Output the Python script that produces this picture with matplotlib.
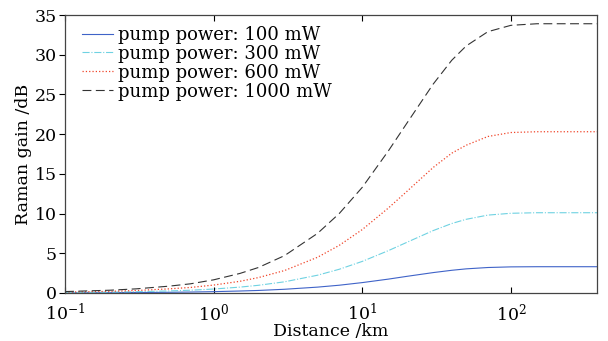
import matplotlib
matplotlib.use('Agg')
import matplotlib.pyplot as plt
from matplotlib.ticker import LogLocator, NullLocator

plt.rcParams['font.family'] = 'DejaVu Serif'
plt.rcParams['mathtext.fontset'] = 'dejavuserif'

# Distance along the fibre (km) and Raman gain (dB)
distance = [0.1, 0.2, 0.3, 0.5, 0.7, 1, 1.5, 2, 3, 5, 7, 10, 15, 20, 30, 40, 50,
            70, 100, 150, 200, 380]
gain_100 = [0.02, 0.03, 0.05, 0.08, 0.11, 0.16, 0.24, 0.31, 0.46, 0.73, 0.97,
            1.30, 1.74, 2.09, 2.56, 2.85, 3.03, 3.20, 3.28, 3.30, 3.30, 3.30]
gain_300 = [0.05, 0.10, 0.15, 0.25, 0.34, 0.49, 0.73, 0.96, 1.40, 2.23, 2.98,
            3.97, 5.33, 6.38, 7.85, 8.74, 9.27, 9.80, 10.03, 10.1, 10.1, 10.1]
gain_600 = [0.10, 0.20, 0.30, 0.51, 0.69, 0.99, 1.46, 1.93, 2.82, 4.49, 5.99,
            7.98, 10.7, 12.8, 15.8, 17.6, 18.6, 19.7, 20.2, 20.3, 20.3, 20.3]
gain_1000 = [0.17, 0.34, 0.51, 0.85, 1.15, 1.65, 2.45, 3.2, 4.7, 7.5, 10.0,
             13.3, 17.9, 21.4, 26.3, 29.3, 31.1, 32.9, 33.7, 33.9, 33.9, 33.9]
labels = ['pump power: 100 mW', 'pump power: 300 mW',
          'pump power: 600 mW', 'pump power: 1000 mW']

fig = plt.figure(figsize=(6.08, 3.41), dpi=100)
ax = fig.add_axes([0.107, 0.141, 0.875, 0.815])

ax.plot(distance, gain_100, '-', color='#3f63c8', lw=0.8, label=labels[0])
ax.plot(distance, gain_300, '-.', color='#6fd2e2', lw=0.8, label=labels[1])
ax.plot(distance, gain_600, ':', color='#f0452a', lw=0.9, label=labels[2])
ax.plot(distance, gain_1000, '--', color='#333333', lw=0.8, dashes=(8, 4),
        label=labels[3])

ax.set_xscale('log')
ax.set_xlim(0.1, 380)
ax.set_ylim(0, 35)
ax.xaxis.set_major_locator(LogLocator(base=10, numticks=10))
ax.xaxis.set_minor_locator(NullLocator())
ax.set_yticks(range(0, 36, 5))
ax.tick_params(axis='x', direction='in', top=True, labelsize=12.5, length=4,
               pad=7)
ax.tick_params(axis='y', direction='out', labelsize=12.5, length=4, pad=2)
for s in ax.spines.values():
    s.set_color('#444444')
    s.set_linewidth(0.9)

ax.set_xlabel('Distance /km', fontsize=12.5, labelpad=-1)
ax.set_ylabel('Raman gain /dB', fontsize=12.5, labelpad=2)

ax.legend(loc='upper left', frameon=False, fontsize=13, handlelength=1.7,
          handletextpad=0.3, labelspacing=0.05, borderaxespad=0.2,
          bbox_to_anchor=(0.012, 1.0))

fig.savefig('out.png', dpi=100)
